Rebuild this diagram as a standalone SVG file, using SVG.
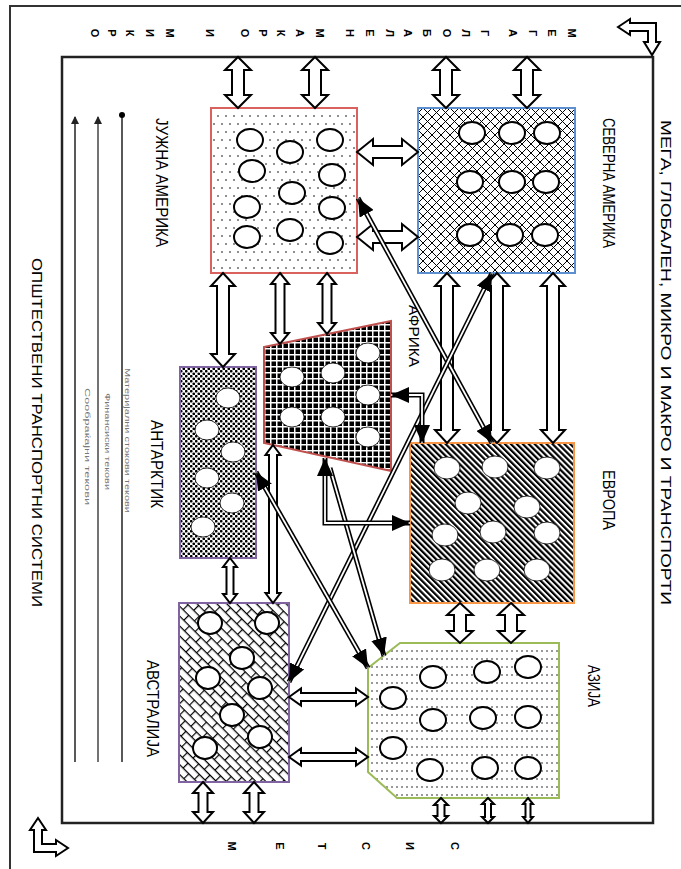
<svg xmlns="http://www.w3.org/2000/svg" width="681" height="869" viewBox="0 0 681 869">
<style>
text{font-family:"Liberation Sans","DejaVu Sans",sans-serif;fill:#000}
.lbl{font-size:16px}
.ttl{font-size:15px}
.ltr{font-size:11px;font-weight:bold;text-anchor:middle;dominant-baseline:central}
.leg{font-size:7px;fill:#777}
.blk{fill:#fff;stroke:#000;stroke-width:2;stroke-linejoin:miter}
.dlo{fill:none;stroke:#000;stroke-width:5}
.dli{fill:none;stroke:#fff;stroke-width:1.8}
.dlm{fill:none;stroke:none;marker-end:url(#hd)}
.dlm2{fill:none;stroke:none;marker-end:url(#hd);marker-start:url(#hd)}
.co{fill:#fff;stroke:#000;stroke-width:2}
.cw{fill:#fff;stroke:#000;stroke-width:0.8}
</style>
<defs>
<marker id="hd" viewBox="0 0 18 16" refX="18" refY="8" markerWidth="18" markerHeight="16" markerUnits="userSpaceOnUse" orient="auto-start-reverse"><path d="M0,0 L18,8 L0,16 z" fill="#000"/></marker>
<marker id="lah" viewBox="0 0 8 8" refX="4" refY="1" markerWidth="8" markerHeight="8" markerUnits="userSpaceOnUse" orient="0"><path d="M4,0 L8,8 L0,8 z" fill="#222"/></marker>
<pattern id="pSA" width="8" height="16" patternUnits="userSpaceOnUse"><rect width="8" height="16" fill="#fff"/><circle cx="2" cy="4" r="0.8" fill="#000"/><circle cx="6" cy="12" r="0.8" fill="#000"/></pattern>
<pattern id="pAS" width="5" height="8" patternUnits="userSpaceOnUse"><rect width="5" height="8" fill="#fff"/><circle cx="2" cy="3" r="0.75" fill="#000"/></pattern>
<pattern id="pNA" width="9" height="9" patternUnits="userSpaceOnUse"><rect width="9" height="9" fill="#fff"/><path d="M0,0 L9,9 M9,0 L0,9" stroke="#000" stroke-width="1"/></pattern>
<pattern id="pAF" width="6" height="6" patternUnits="userSpaceOnUse"><rect width="6" height="6" fill="#000"/><path d="M0,0.75 H6 M0.75,0 V6" stroke="#fff" stroke-width="1.5"/></pattern>
<pattern id="pAN" width="5" height="5" patternUnits="userSpaceOnUse"><rect width="5" height="5" fill="#fff"/><circle cx="1.25" cy="1.25" r="1.35" fill="#000"/><circle cx="3.75" cy="3.75" r="1.35" fill="#000"/></pattern>
<pattern id="pEU" width="4.2" height="10" patternUnits="userSpaceOnUse" patternTransform="rotate(-45)"><rect width="4.2" height="10" fill="#fff"/><rect width="2.2" height="10" fill="#000"/></pattern>
<pattern id="pAU" width="16" height="14" patternUnits="userSpaceOnUse" patternTransform="rotate(45)"><rect width="16" height="14" fill="#fff"/><path d="M0,0.6 H16 M0,7.6 H16 M0.6,0 V7 M8.6,7 V14" stroke="#000" stroke-width="1.2"/></pattern>
</defs>

<g id="frame">
<path d="M10,869 V6 H681" fill="none" stroke="#333" stroke-width="2"/>
<rect x="62" y="57" width="591" height="766" fill="none" stroke="#222" stroke-width="2.5"/>
<polygon class="blk" points="618,27 630,19 630,23 656,23 656,42 660,42 652,55 644,42 648,42 648,31 630,31 630,35"/>
<polygon class="blk" points="38,818 46,830 42,830 42,844 56,844 56,840 68,848 56,856 56,852 34,852 34,830 30,830"/>
<text class="ttl" transform="translate(661,120) rotate(90)" textLength="485" lengthAdjust="spacingAndGlyphs">МЕГА, ГЛОБАЛЕН, МИКРО И МАКРО И ТРАНСПОРТИ</text>
<text class="ttl" transform="translate(32,258) rotate(90)" textLength="349" lengthAdjust="spacingAndGlyphs">ОПШТЕСТВЕНИ ТРАНСПОРТНИ СИСТЕМИ</text>
<g id="top-letters">
<text class="ltr" transform="translate(572,33) rotate(90)">М</text>
<text class="ltr" transform="translate(552,33) rotate(90)">Е</text>
<text class="ltr" transform="translate(533,33) rotate(90)">Г</text>
<text class="ltr" transform="translate(513,33) rotate(90)">А</text>
<text class="ltr" transform="translate(485,33) rotate(90)">Г</text>
<text class="ltr" transform="translate(466,33) rotate(90)">Л</text>
<text class="ltr" transform="translate(447,33) rotate(90)">О</text>
<text class="ltr" transform="translate(427,33) rotate(90)">Б</text>
<text class="ltr" transform="translate(408,33) rotate(90)">А</text>
<text class="ltr" transform="translate(390,33) rotate(90)">Л</text>
<text class="ltr" transform="translate(370,33) rotate(90)">Е</text>
<text class="ltr" transform="translate(350,33) rotate(90)">Н</text>
<text class="ltr" transform="translate(320,33) rotate(90)">М</text>
<text class="ltr" transform="translate(300,33) rotate(90)">А</text>
<text class="ltr" transform="translate(281,33) rotate(90)">К</text>
<text class="ltr" transform="translate(263,33) rotate(90)">Р</text>
<text class="ltr" transform="translate(245,33) rotate(90)">О</text>
<text class="ltr" transform="translate(210,33) rotate(90)">И</text>
<text class="ltr" transform="translate(170,33) rotate(90)">М</text>
<text class="ltr" transform="translate(150,33) rotate(90)">И</text>
<text class="ltr" transform="translate(130,33) rotate(90)">К</text>
<text class="ltr" transform="translate(112,33) rotate(90)">Р</text>
<text class="ltr" transform="translate(95,33) rotate(90)">О</text>
</g>
<g id="bottom-letters">
<text class="ltr" transform="translate(455,846) rotate(90)">С</text>
<text class="ltr" transform="translate(410,846) rotate(90)">И</text>
<text class="ltr" transform="translate(366,846) rotate(90)">С</text>
<text class="ltr" transform="translate(322,846) rotate(90)">Т</text>
<text class="ltr" transform="translate(280,846) rotate(90)">Е</text>
<text class="ltr" transform="translate(232,846) rotate(90)">М</text>
</g>
</g>

<g id="legend">
<line x1="75" y1="117" x2="75" y2="762" stroke="#222" stroke-width="1.5" marker-start="url(#lah)"/>
<line x1="98" y1="117" x2="98" y2="762" stroke="#444" stroke-width="1.5" marker-start="url(#lah)"/>
<line x1="122" y1="115" x2="122" y2="762" stroke="#222" stroke-width="1.5"/>
<circle cx="122" cy="115" r="3" fill="#000"/>
<text class="leg" transform="translate(125,368) rotate(90)" textLength="145" lengthAdjust="spacingAndGlyphs">Материјални стокови текови</text>
<text class="leg" transform="translate(105,393) rotate(90)" textLength="97" lengthAdjust="spacingAndGlyphs">Финансиски текови</text>
<text class="leg" transform="translate(85,388) rotate(90)" textLength="117" lengthAdjust="spacingAndGlyphs">Сообраќајни текови</text>
</g>

<g id="south-america">
<rect x="211" y="108" width="146" height="165" fill="url(#pSA)" stroke="#d9625e" stroke-width="2"/>
<ellipse class="co" cx="250" cy="140" rx="13" ry="11"/>
<ellipse class="co" cx="252" cy="171" rx="13" ry="11"/>
<ellipse class="co" cx="247" cy="207" rx="13" ry="11"/>
<ellipse class="co" cx="247" cy="237" rx="13" ry="11"/>
<ellipse class="co" cx="290" cy="152" rx="13" ry="11"/>
<ellipse class="co" cx="292" cy="193" rx="13" ry="11"/>
<ellipse class="co" cx="290" cy="230" rx="13" ry="11"/>
<ellipse class="co" cx="330" cy="140" rx="13" ry="11"/>
<ellipse class="co" cx="332" cy="175" rx="13" ry="11"/>
<ellipse class="co" cx="332" cy="208" rx="13" ry="11"/>
<ellipse class="co" cx="330" cy="243" rx="13" ry="11"/>
<text class="lbl" transform="translate(156,118) rotate(90)" textLength="129" lengthAdjust="spacingAndGlyphs">ЈУЖНА АМЕРИКА</text>
</g>

<g id="north-america">
<rect x="418" y="108" width="157" height="165" fill="url(#pNA)" stroke="#5b8fd0" stroke-width="2"/>
<ellipse class="co" cx="472" cy="133" rx="13" ry="11"/>
<ellipse class="co" cx="512" cy="133" rx="13" ry="11"/>
<ellipse class="co" cx="547" cy="133" rx="13" ry="11"/>
<ellipse class="co" cx="470" cy="182" rx="13" ry="11"/>
<ellipse class="co" cx="512" cy="182" rx="13" ry="11"/>
<ellipse class="co" cx="546" cy="182" rx="13" ry="11"/>
<ellipse class="co" cx="470" cy="235" rx="13" ry="11"/>
<ellipse class="co" cx="510" cy="235" rx="13" ry="11"/>
<ellipse class="co" cx="545" cy="235" rx="13" ry="11"/>
<text class="lbl" transform="translate(603,118) rotate(90)" textLength="130" lengthAdjust="spacingAndGlyphs">СЕВЕРНА АМЕРИКА</text>
</g>

<g id="africa">
<polygon points="264,347 391,321 391,471 264,443" fill="url(#pAF)" stroke="#c0504d" stroke-width="2"/>
<ellipse class="cw" cx="292" cy="377" rx="12" ry="10"/>
<ellipse class="cw" cx="333" cy="373" rx="12" ry="10"/>
<ellipse class="cw" cx="368" cy="353" rx="12" ry="10"/>
<ellipse class="cw" cx="368" cy="395" rx="12" ry="10"/>
<ellipse class="cw" cx="292" cy="417" rx="12" ry="10"/>
<ellipse class="cw" cx="333" cy="417" rx="12" ry="10"/>
<ellipse class="cw" cx="368" cy="437" rx="12" ry="10"/>
<text class="lbl" style="font-size:14px" transform="translate(409,305) rotate(90)" textLength="62" lengthAdjust="spacingAndGlyphs">АФРИКА</text>
</g>

<g id="antarctica">
<rect x="180" y="367" width="76" height="191" fill="url(#pAN)" stroke="#8064a2" stroke-width="2"/>
<ellipse class="cw" cx="228" cy="398" rx="12" ry="10"/>
<ellipse class="cw" cx="207" cy="430" rx="12" ry="10"/>
<ellipse class="cw" cx="233" cy="452" rx="12" ry="10"/>
<ellipse class="cw" cx="207" cy="478" rx="12" ry="10"/>
<ellipse class="cw" cx="232" cy="503" rx="12" ry="10"/>
<ellipse class="cw" cx="203" cy="527" rx="12" ry="10"/>
<text class="lbl" transform="translate(151,420) rotate(90)" textLength="88" lengthAdjust="spacingAndGlyphs">АНТАРКТИК</text>
</g>

<g id="europe">
<rect x="410" y="443" width="164" height="160" fill="url(#pEU)" stroke="#f79646" stroke-width="2"/>
<ellipse class="cw" cx="447" cy="468" rx="13" ry="11"/>
<ellipse class="cw" cx="495" cy="467" rx="13" ry="11"/>
<ellipse class="cw" cx="547" cy="468" rx="13" ry="11"/>
<ellipse class="cw" cx="468" cy="503" rx="13" ry="11"/>
<ellipse class="cw" cx="527" cy="507" rx="13" ry="11"/>
<ellipse class="cw" cx="445" cy="535" rx="13" ry="11"/>
<ellipse class="cw" cx="493" cy="532" rx="13" ry="11"/>
<ellipse class="cw" cx="547" cy="533" rx="13" ry="11"/>
<ellipse class="cw" cx="442" cy="570" rx="13" ry="11"/>
<ellipse class="cw" cx="487" cy="570" rx="13" ry="11"/>
<ellipse class="cw" cx="537" cy="570" rx="13" ry="11"/>
<text class="lbl" transform="translate(603,470) rotate(90)" textLength="60" lengthAdjust="spacingAndGlyphs">ЕВРОПА</text>
</g>

<g id="australia">
<rect x="179" y="603" width="110" height="179" fill="url(#pAU)" stroke="#8064a2" stroke-width="2"/>
<ellipse class="co" cx="210" cy="623" rx="12" ry="11"/>
<ellipse class="co" cx="267" cy="623" rx="12" ry="11"/>
<ellipse class="co" cx="242" cy="658" rx="12" ry="11"/>
<ellipse class="co" cx="208" cy="678" rx="12" ry="11"/>
<ellipse class="co" cx="260" cy="688" rx="12" ry="11"/>
<ellipse class="co" cx="232" cy="715" rx="12" ry="11"/>
<ellipse class="co" cx="260" cy="737" rx="12" ry="11"/>
<ellipse class="co" cx="205" cy="748" rx="12" ry="11"/>
<text class="lbl" transform="translate(147,660) rotate(90)" textLength="97" lengthAdjust="spacingAndGlyphs">АВСТРАЛИЈА</text>
</g>

<g id="asia">
<polygon points="400,643 559,643 559,798 397,798 368,772 368,668" fill="url(#pAS)" stroke="#9bbb59" stroke-width="2"/>
<ellipse class="co" cx="433" cy="677" rx="13" ry="11"/>
<ellipse class="co" cx="487" cy="672" rx="13" ry="11"/>
<ellipse class="co" cx="528" cy="667" rx="13" ry="11"/>
<ellipse class="co" cx="393" cy="698" rx="13" ry="11"/>
<ellipse class="co" cx="433" cy="720" rx="13" ry="11"/>
<ellipse class="co" cx="483" cy="718" rx="13" ry="11"/>
<ellipse class="co" cx="528" cy="717" rx="13" ry="11"/>
<ellipse class="co" cx="393" cy="748" rx="13" ry="11"/>
<ellipse class="co" cx="430" cy="770" rx="13" ry="11"/>
<ellipse class="co" cx="485" cy="768" rx="13" ry="11"/>
<ellipse class="co" cx="528" cy="768" rx="13" ry="11"/>
<text class="lbl" transform="translate(588,665) rotate(90)" textLength="42" lengthAdjust="spacingAndGlyphs">АЗИЈА</text>
</g>

<g id="connectors">
<polygon class="blk" points="238,57 251,70 244,70 244,95 251,95 238,108 225,95 232,95 232,70 225,70"/>
<polygon class="blk" points="315,57 328,70 321,70 321,95 328,95 315,108 302,95 309,95 309,70 302,70"/>
<polygon class="blk" points="446,57 459,70 452,70 452,95 459,95 446,108 433,95 440,95 440,70 433,70"/>
<polygon class="blk" points="527,57 540,70 533,70 533,95 540,95 527,108 514,95 521,95 521,70 514,70"/>
<polygon class="blk" points="357,152 373,139 373,146 402,146 402,139 418,152 402,165 402,158 373,158 373,165"/>
<polygon class="blk" points="357,237 373,224 373,231 402,231 402,224 418,237 402,250 402,243 373,243 373,250"/>
<polygon class="blk" points="223,273 235,286 229,286 229,354 235,354 223,367 211,354 217,354 217,286 211,286"/>
<polygon class="blk" points="280,273 289,284 284.5,284 284.5,333 289,333 280,344 271,333 275.5,333 275.5,284 271,284"/>
<polygon class="blk" points="327,273 336,284 331.5,284 331.5,323 336,323 327,334 318,323 322.5,323 322.5,284 318,284"/>
<polygon class="blk" points="230,558 237,567 233.5,567 233.5,594 237,594 230,603 223,594 226.5,594 226.5,567 223,567"/>
<polygon class="blk" points="273,445 280.5,455 277,455 277,593 280.5,593 273,603 265.5,593 269,593 269,455 265.5,455"/>
<polygon class="blk" points="447,273 459,286 453,286 453,430 459,430 447,443 435,430 441,430 441,286 435,286"/>
<polygon class="blk" points="497,273 509,286 503,286 503,430 509,430 497,443 485,430 491,430 491,286 485,286"/>
<polygon class="blk" points="553,273 565,286 559,286 559,430 565,430 553,443 541,430 547,430 547,286 541,286"/>
<polygon class="blk" points="460,603 473,615 466,615 466,631 473,631 460,643 447,631 454,631 454,615 447,615"/>
<polygon class="blk" points="511,603 524,615 517,615 517,631 524,631 511,643 498,631 505,631 505,615 498,615"/>
<polygon class="blk" points="289,697 301,688.5 301,693 356,693 356,688.5 368,697 356,705.5 356,701 301,701 301,705.5"/>
<polygon class="blk" points="289,757 301,748.5 301,753 356,753 356,748.5 368,757 356,765.5 356,761 301,761 301,765.5"/>
<polygon class="blk" points="203,782 213,793 207.5,793 207.5,812 213,812 203,823 193,812 198.5,812 198.5,793 193,793"/>
<polygon class="blk" points="254,782 264,793 258.5,793 258.5,812 264,812 254,823 244,812 249.5,812 249.5,793 244,793"/>
<polygon class="blk" points="441,798 448,805 444.5,805 444.5,816 448,816 441,823 434,816 437.5,816 437.5,805 434,805"/>
<polygon class="blk" points="488,798 494,804 491,804 491,817 494,817 488,823 482,817 485,817 485,804 482,804"/>
<polygon class="blk" points="528,798 533,804 530.5,804 530.5,817 533,817 528,823 523,817 525.5,817 525.5,804 523,804"/>

<path class="dlo" d="M358,198 L492,443"/><path class="dli" d="M358,198 L492,443"/><path class="dlm2" d="M358,198 L492,443"/>
<path class="dlo" d="M289,682 L492,273"/><path class="dli" d="M289,682 L492,273"/><path class="dlm2" d="M289,682 L492,273"/>
<path class="dlo" d="M256,472 L368,668"/><path class="dli" d="M256,472 L368,668"/><path class="dlm2" d="M256,472 L368,668"/>
<path class="dlo" d="M330,468 L384,656"/><path class="dli" d="M330,468 L384,656"/><path class="dlm" d="M330,468 L384,656"/>
<path class="dlo" d="M325,458 L325,523 L410,523"/><path class="dli" d="M325,458 L325,523 L410,523"/><path class="dlm2" d="M325,458 L325,523 L410,523"/>
<path class="dlo" d="M391,395 L422,395 L422,443"/><path class="dli" d="M391,395 L422,395 L422,443"/><path class="dlm2" d="M391,395 L422,395 L422,443"/>
</g>
</svg>
